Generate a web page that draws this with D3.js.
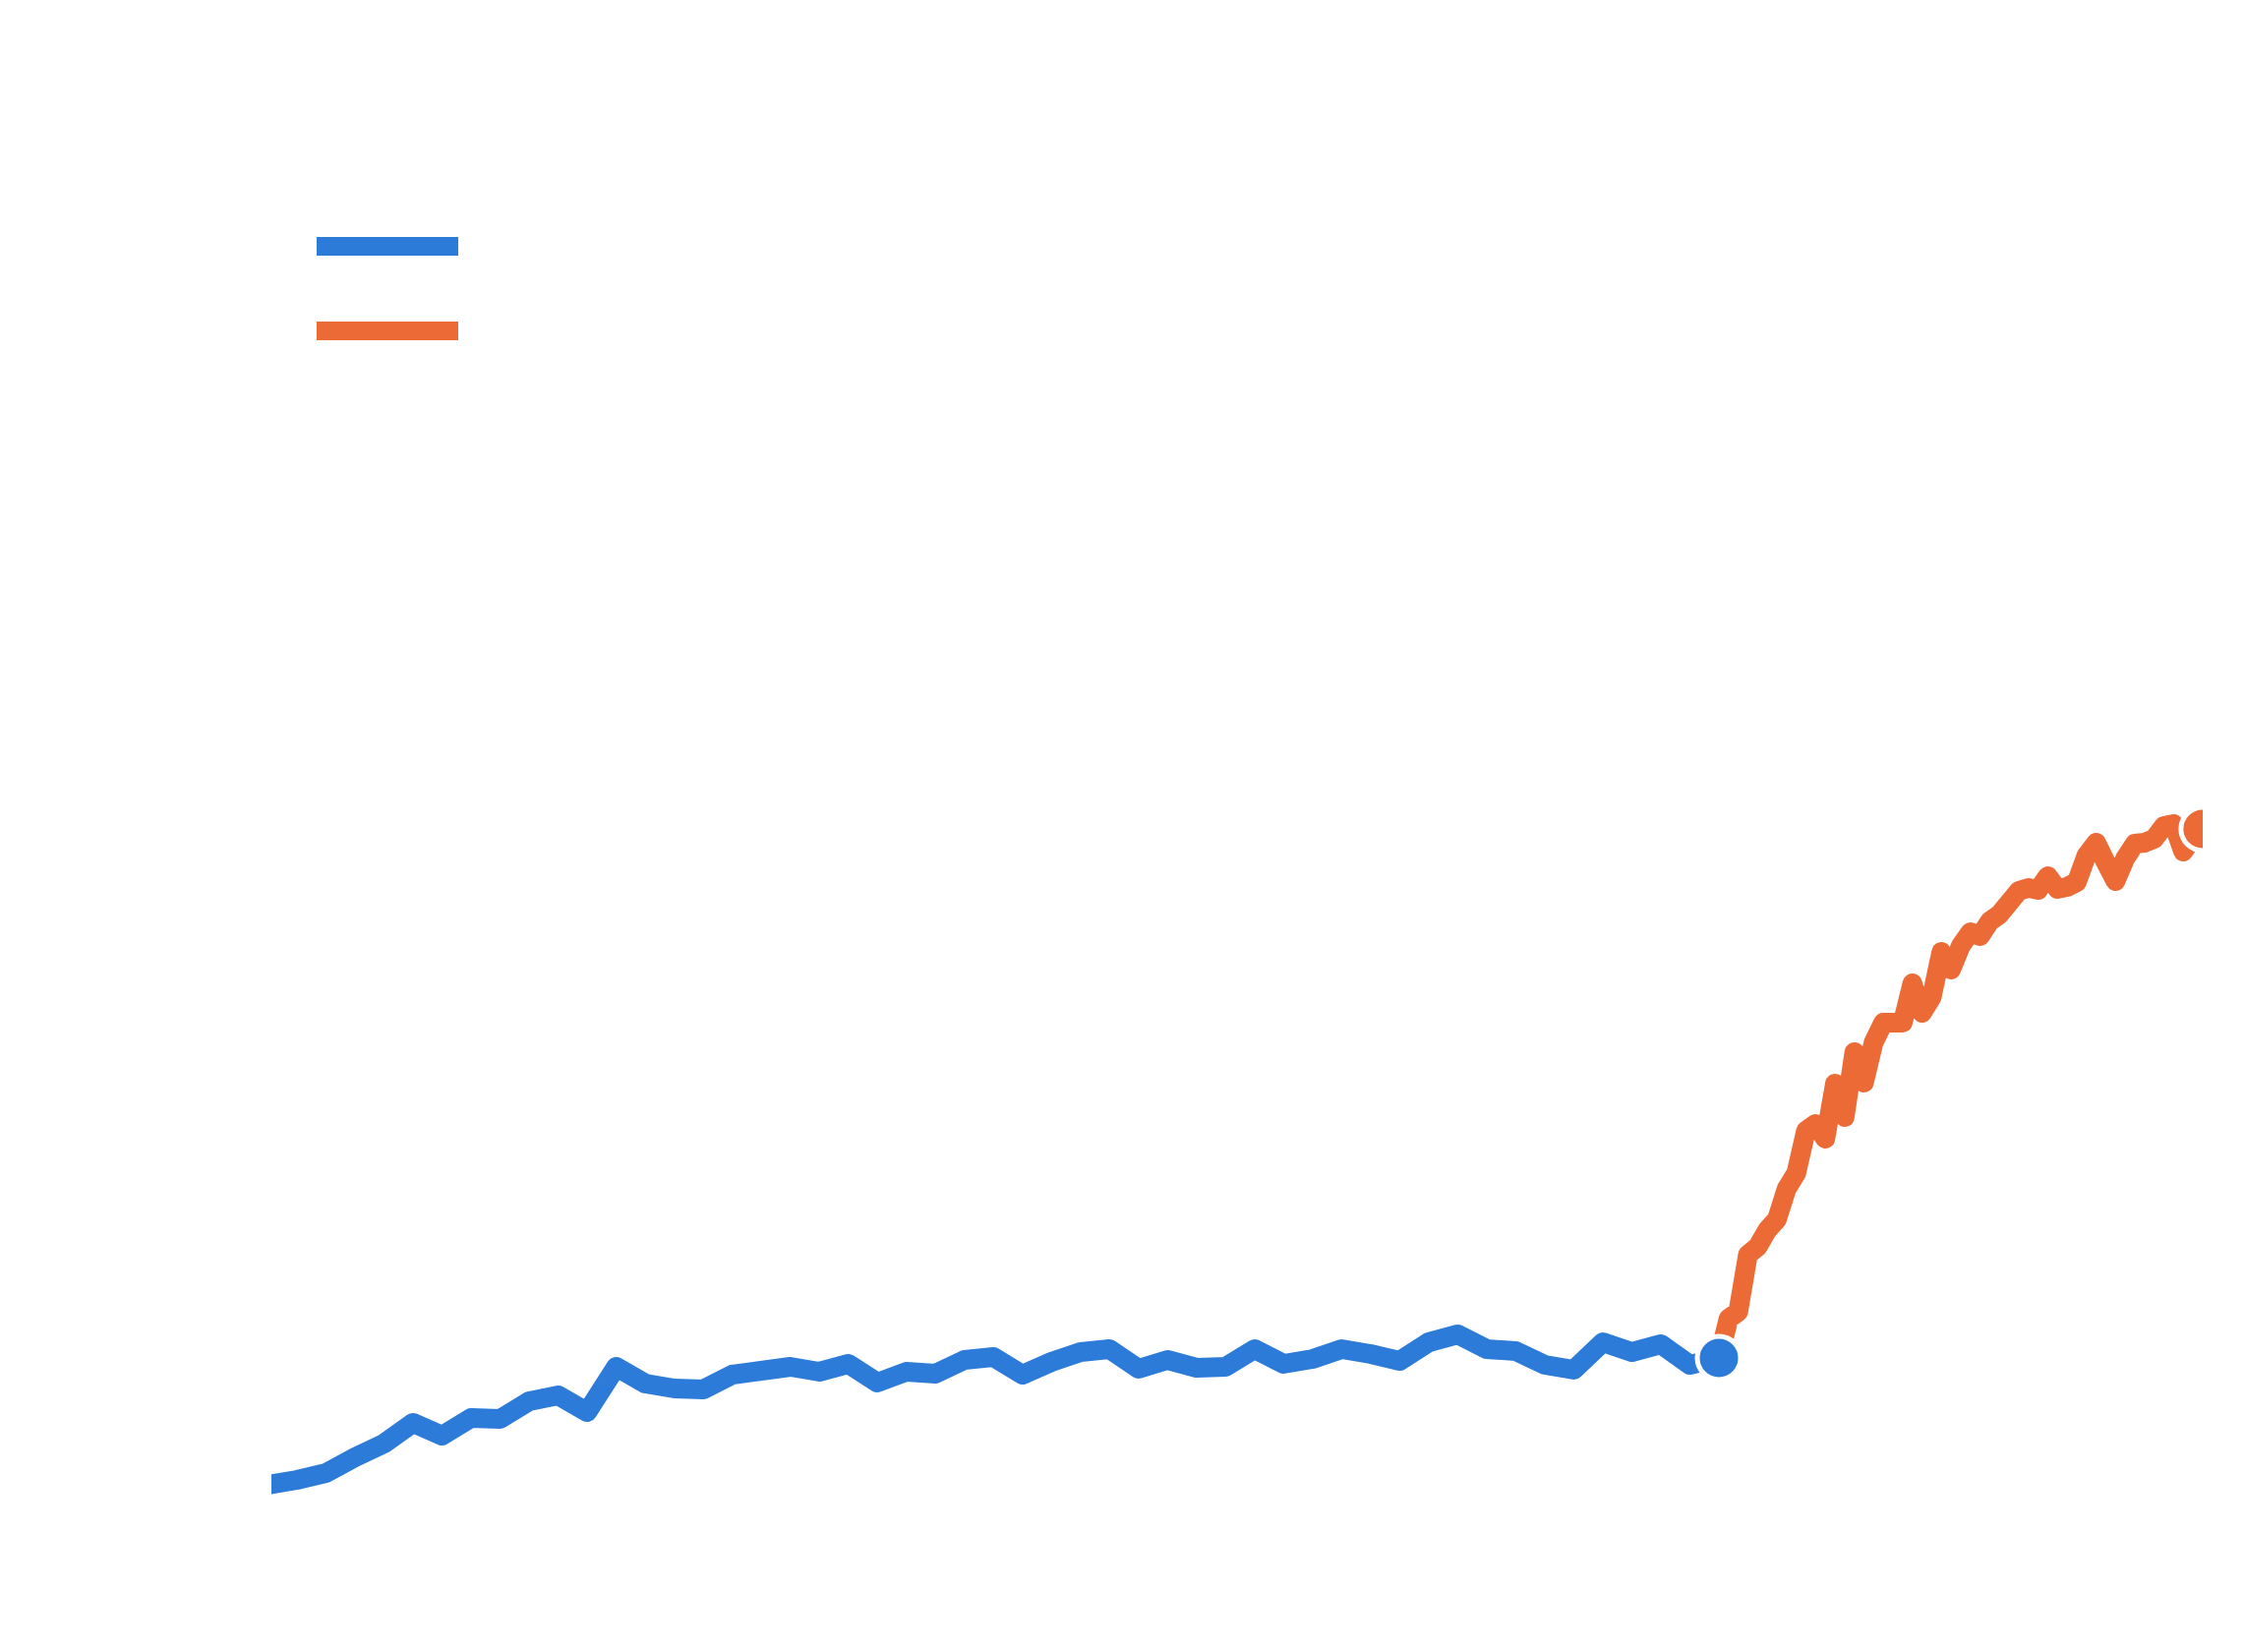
<!DOCTYPE html>
<html>
<head>
<meta charset="utf-8">
<script src="https://cdn.jsdelivr.net/npm/d3@7"></script>
<style>
  html, body { margin: 0; padding: 0; background: #ffffff; }
  svg { display: block; }
</style>
</head>
<body>
<script>
// Blue series: one value per period, starting one period before the first visible one
const bluePeriods = d3.range(-1, 50);
const blueValues = [
  5.0, 5.5, 6.2, 7.8, 9.2, 11.3, 10.0, 11.8, 11.7, 13.5,
  14.1, 12.4, 17.0, 15.3, 14.8, 14.7, 16.2, 16.6, 17.0, 16.5,
  17.3, 15.4, 16.5, 16.3, 17.7, 18.0, 16.2, 17.5, 18.5, 18.8,
  16.8, 17.7, 16.9, 17.0, 18.8, 17.3, 17.8, 18.8, 18.3, 17.6,
  19.5, 20.3, 18.8, 18.6, 17.2, 16.7, 19.5, 18.5, 19.3, 17.2,
  17.9
];

// Orange series: three values per period, continuing from the last blue value
const orangePeriods = d3.range(0, 51).map(j => 49 + j / 3);
const orangeValues = [
  17.9, 21.9, 22.6, 28.4, 29.2, 30.9, 32.0, 35.1, 36.7, 41.0,
  41.7, 40.2, 45.8, 42.4, 49.0, 45.9, 50.0, 52.0, 52.0, 52.0,
  56.0, 53.0, 54.6, 59.2, 57.4, 59.8, 61.2, 60.8, 62.3, 63.0,
  64.2, 65.4, 65.7, 65.5, 66.9, 65.6, 65.8, 66.3, 69.0, 70.3,
  68.3, 66.4, 68.7, 70.2, 70.3, 70.7, 72.0, 72.2, 69.4, 70.8,
  71.7
];

const seriesColors = ["#2c7bd9", "#ec6a35"];

const W = 2283, H = 1680;
const svg = d3.select("body").append("svg")
  .attr("width", W).attr("height", H)
  .style("background", "#ffffff");

const x = d3.scaleLinear().domain([0, 49]).range([302, 1748]);
const y = d3.scaleLinear().domain([0, 100]).range([1560, 560]);

svg.append("defs").append("clipPath").attr("id", "plotclip")
  .append("rect").attr("x", 276).attr("y", 0).attr("width", 2240 - 276).attr("height", H);

const blueData = bluePeriods.map((p, i) => ({ t: p, v: blueValues[i] }));
const orangeData = orangePeriods.map((p, i) => ({ t: p, v: orangeValues[i] }));

const line = d3.line().x(d => x(d.t)).y(d => y(d.v)).curve(d3.curveLinear);

const g = svg.append("g").attr("clip-path", "url(#plotclip)");

[blueData, orangeData].forEach((data, k) => {
  g.append("path")
    .datum(data)
    .attr("d", line)
    .attr("fill", "none")
    .attr("stroke", seriesColors[k])
    .attr("stroke-width", 20)
    .attr("stroke-linejoin", "round")
    .attr("stroke-linecap", "butt");
});

[blueData, orangeData].forEach((data, k) => {
  const last = data[data.length - 1];
  g.append("circle")
    .attr("cx", x(last.t))
    .attr("cy", y(last.v))
    .attr("r", 22)
    .attr("fill", seriesColors[k])
    .attr("stroke", "#ffffff")
    .attr("stroke-width", 5);
});

// Legend swatches (no text in the original)
const legend = svg.append("g");
seriesColors.forEach((c, k) => {
  legend.append("rect")
    .attr("x", 322)
    .attr("y", 241 + k * 86)
    .attr("width", 144)
    .attr("height", 19)
    .attr("fill", c);
});
</script>
</body>
</html>
